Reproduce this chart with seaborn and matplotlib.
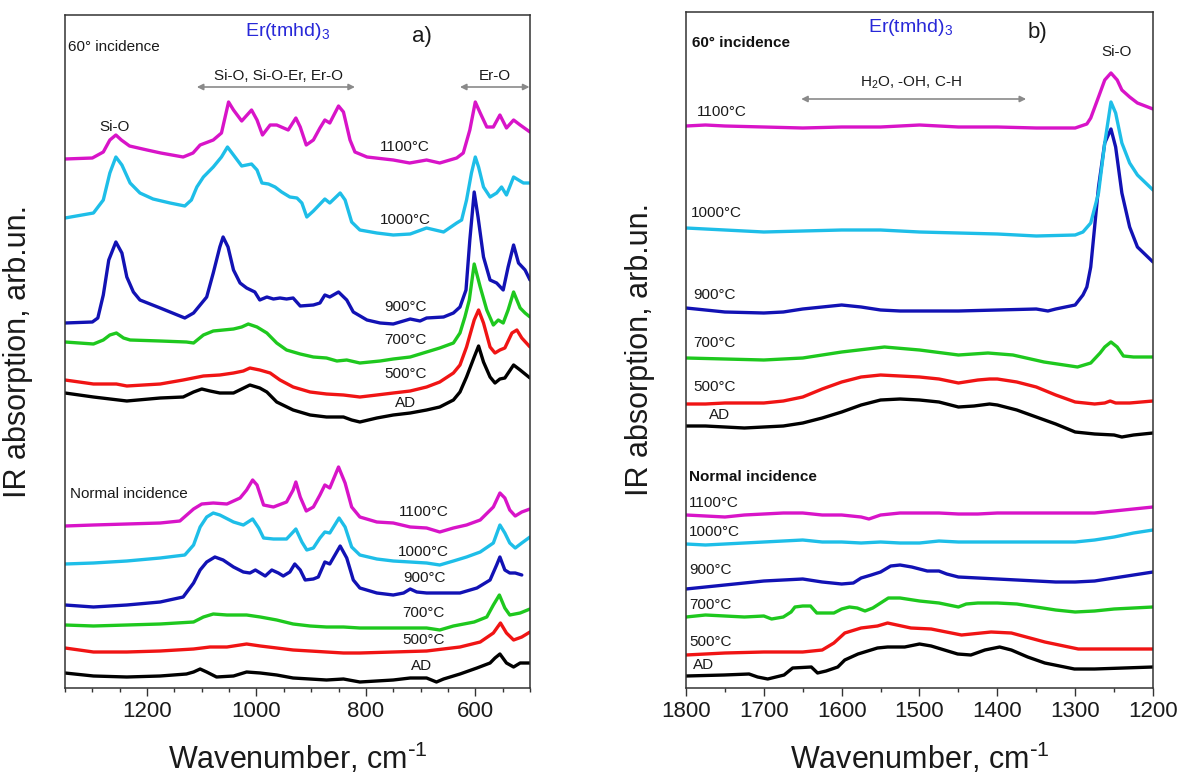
import matplotlib
matplotlib.use("Agg")
import matplotlib.pyplot as plt
from matplotlib.ticker import MultipleLocator, FixedLocator
import seaborn as sns

sns.set_theme(style="ticks")
plt.rcParams["font.family"] = ["Liberation Sans", "DejaVu Sans"]
plt.rcParams["mathtext.default"] = "regular"

# ---------------- data (arbitrary absorption units, stacked) ----------------
LABELS = ["AD", "500°C", "700°C", "900°C", "1000°C", "1100°C"]
COLORS = ["#000000", "#f01414", "#1ec81e", "#1212b4", "#1ebee8", "#d814c8"]

# Panel a, 60° incidence
A60_1100_WN = [1350,1300,1280,1268,1257,1247,1232,1200,1175,1134,1116,1103,1079,1064,1051,1042,1027,1009,999,989,975,963,942,928,920,909,896,884,875,866,850,841,829,820,798,750,720,689,665,634,622,610,600,591,579,567,555,543,530,518,500]
A60_1100_Y = [531,532,538,550,555,550,544,540,537,533,537,545,550,557,588,580,569,580,570,555,565,565,560,572,563,545,550,562,570,567,584,578,550,538,533,530,527,530,527,532,537,560,588,577,563,563,575,562,570,565,558]
A60_1000_WN = [1350,1298,1280,1268,1257,1246,1231,1213,1189,1158,1131,1119,1109,1097,1079,1064,1053,1042,1027,1009,999,990,978,966,954,939,926,917,908,896,875,866,847,838,826,811,780,750,719,689,658,634,625,616,607,600,594,585,573,561,552,543,530,521,512,500]
A60_1000_Y = [472,477,490,517,533,525,507,497,491,487,484,490,503,513,523,533,543,535,524,526,520,507,506,503,498,493,492,487,473,479,491,487,497,490,468,460,457,455,456,462,458,467,470,490,517,533,523,503,493,497,503,495,513,510,507,507]
A60_900_WN = [1350,1300,1290,1280,1270,1257,1246,1237,1225,1213,1176,1131,1115,1091,1079,1067,1061,1052,1042,1030,1018,1003,994,981,969,957,945,933,920,896,884,875,866,850,835,823,798,774,750,719,701,689,658,640,628,617,610,602,595,585,573,561,549,540,530,521,509,500]
A60_900_Y = [367,368,372,395,430,448,437,413,398,390,382,372,377,393,417,443,453,443,420,407,402,398,390,393,391,392,391,392,384,385,387,395,393,398,390,378,370,367,366,371,369,372,373,377,383,400,450,498,473,433,410,407,400,423,445,427,420,410]
A60_700_WN = [1350,1298,1280,1268,1256,1243,1231,1176,1128,1115,1097,1079,1042,1027,1015,999,981,963,945,920,896,872,853,835,811,774,750,719,689,665,640,628,619,611,602,591,579,567,558,549,540,530,518,509,500]
A60_700_Y = [348,346,350,355,357,352,350,349,348,347,355,359,361,363,366,363,357,347,340,336,333,332,329,330,327,329,331,333,338,342,347,357,373,390,426,403,380,365,370,367,380,398,382,377,373]
A60_500_WN = [1350,1298,1256,1237,1176,1134,1097,1067,1042,1024,1012,994,975,957,933,902,872,841,811,780,750,719,689,665,640,628,616,602,594,585,573,564,555,546,533,524,515,500]
A60_500_Y = [310,306,306,304,306,310,314,315,317,319,322,320,317,310,303,298,296,295,293,295,297,299,303,308,317,325,343,370,380,367,343,337,340,342,357,360,352,343]
A60_AD_WN = [1350,1298,1237,1176,1134,1115,1100,1085,1067,1042,1027,1012,994,981,963,933,902,872,841,826,811,780,750,719,689,665,640,628,616,602,594,585,573,564,555,546,530,518,500]
A60_AD_Y = [297,293,289,292,293,298,301,299,297,297,301,305,302,298,288,280,275,273,273,270,268,272,275,277,280,283,290,298,313,333,344,328,313,307,311,312,325,320,312]

# Panel a, normal incidence
AN_1100_WN = [1350,1298,1237,1176,1140,1115,1100,1079,1054,1030,1018,1007,999,987,969,945,933,928,920,909,896,884,875,866,850,838,826,811,780,750,719,689,665,640,616,591,567,555,546,537,527,515,500]
AN_1100_Y = [164,165,166,167,169,181,186,187,186,192,200,210,205,185,183,188,200,208,193,179,183,195,205,202,223,207,183,173,168,167,163,162,158,162,165,170,183,197,192,180,174,178,181]
AN_1000_WN = [1350,1298,1237,1176,1131,1115,1103,1091,1079,1067,1042,1024,1007,996,987,969,945,933,928,917,908,896,884,875,866,849,838,826,811,780,750,719,689,665,640,616,591,567,555,546,537,527,515,500]
AN_1000_Y = [126,127,129,132,135,145,163,173,177,175,168,165,171,162,152,151,151,158,161,148,140,142,152,158,157,172,163,143,135,131,129,128,127,125,129,133,138,147,165,157,147,142,147,153]
AN_900_WN = [1350,1298,1237,1176,1134,1115,1103,1091,1076,1061,1042,1024,1012,1002,993,984,972,960,951,939,930,920,911,896,887,875,866,847,835,823,811,780,750,731,719,707,689,658,628,597,573,561,555,546,537,527,515]
AN_900_Y = [85,83,85,88,93,107,120,128,133,130,123,118,117,120,117,114,120,117,114,118,126,120,110,111,113,128,126,144,132,110,102,97,95,97,101,98,97,97,97,102,110,125,133,120,117,117,115]
AN_700_WN = [1350,1298,1237,1176,1115,1097,1079,1054,1018,993,963,933,902,872,841,811,750,689,665,640,602,579,567,556,546,537,518,500]
AN_700_Y = [65,64,65,66,68,73,76,75,75,73,70,66,64,63,63,62,62,62,60,64,68,73,85,95,82,75,77,81]
AN_500_WN = [1350,1298,1237,1176,1115,1085,1054,1018,993,963,933,902,872,841,811,750,689,628,591,567,554,543,530,515,500]
AN_500_Y = [42,38,38,39,41,43,43,46,44,42,40,39,38,37,37,38,39,43,48,57,67,57,50,53,58]
AN_AD_WN = [1350,1298,1237,1176,1128,1115,1103,1091,1073,1042,1018,993,963,933,872,841,811,750,719,689,671,658,628,597,573,564,555,543,530,518,500]
AN_AD_Y = [17,14,13,14,16,18,21,18,13,14,18,17,15,12,10,11,8,10,12,12,8,11,16,22,27,32,36,27,23,27,27]

# Panel b, 60° incidence
B60_1100_WN = [1800,1775,1750,1700,1650,1600,1550,1500,1450,1400,1350,1300,1285,1280,1270,1262,1254,1246,1240,1230,1220,1200]
B60_1100_Y = [564,565,564,563,562,563,563,565,563,563,562,562,566,572,593,610,617,610,600,593,587,581]
B60_1000_WN = [1800,1775,1750,1700,1650,1600,1550,1500,1450,1400,1350,1300,1290,1280,1270,1262,1254,1248,1240,1230,1220,1200]
B60_1000_Y = [462,461,460,458,459,460,460,458,457,456,454,455,458,467,497,547,588,577,547,527,515,500]
B60_900_WN = [1800,1775,1750,1700,1675,1650,1625,1600,1575,1550,1525,1500,1450,1400,1350,1335,1325,1300,1290,1285,1280,1275,1270,1262,1254,1248,1240,1230,1220,1200]
B60_900_Y = [382,380,378,377,378,381,383,385,383,380,379,379,379,380,381,379,381,385,395,403,423,463,503,547,561,543,497,463,443,428]
B60_700_WN = [1800,1750,1700,1650,1600,1545,1500,1450,1412,1380,1340,1297,1280,1268,1262,1254,1246,1238,1225,1200]
B60_700_Y = [332,331,330,332,338,343,340,335,337,335,328,323,327,337,343,348,343,334,333,333]
B60_500_WN = [1800,1775,1750,1700,1675,1650,1625,1600,1575,1550,1525,1500,1475,1450,1425,1410,1400,1375,1350,1325,1300,1275,1262,1255,1248,1230,1200]
B60_500_Y = [286,286,287,287,289,293,301,308,313,315,314,313,311,307,310,311,311,308,303,295,288,286,287,289,287,287,289]
B60_AD_WN = [1800,1775,1750,1725,1700,1675,1650,1625,1600,1575,1550,1525,1500,1475,1450,1430,1410,1400,1375,1350,1325,1300,1275,1250,1240,1225,1200]
B60_AD_Y = [264,264,263,262,263,264,267,272,278,285,290,291,290,288,283,284,286,285,280,273,266,258,256,255,253,255,257]

# Panel b, normal incidence
BN_1100_WN = [1800,1775,1750,1725,1700,1675,1650,1625,1600,1575,1565,1550,1525,1500,1475,1450,1425,1400,1350,1300,1275,1250,1225,1200]
BN_1100_Y = [175,174,173,175,176,177,177,175,175,173,171,175,177,177,177,176,176,177,177,177,177,179,181,183]
BN_1000_WN = [1800,1775,1750,1725,1700,1675,1650,1625,1600,1575,1550,1525,1500,1475,1450,1425,1400,1350,1300,1275,1250,1225,1200]
BN_1000_Y = [146,145,146,147,148,149,150,148,148,147,148,147,147,149,148,148,148,148,148,150,153,157,160]
BN_900_WN = [1800,1775,1750,1725,1700,1675,1650,1625,1600,1585,1575,1562,1550,1537,1525,1510,1500,1490,1475,1465,1450,1425,1400,1375,1350,1325,1300,1275,1250,1225,1200]
BN_900_Y = [101,103,105,107,109,110,111,108,106,107,112,115,118,124,125,123,121,119,119,116,113,112,111,110,109,108,108,109,112,115,118]
BN_700_WN = [1800,1775,1750,1725,1700,1690,1675,1665,1660,1650,1640,1632,1625,1610,1600,1590,1580,1570,1560,1550,1540,1525,1500,1475,1450,1440,1425,1400,1375,1350,1325,1300,1275,1250,1200]
BN_700_Y = [73,75,74,73,74,71,73,78,83,84,84,77,77,77,81,83,82,79,82,87,92,92,89,87,83,86,87,87,86,83,80,78,79,81,83]
BN_500_WN = [1800,1750,1700,1650,1625,1610,1596,1575,1554,1541,1511,1485,1446,1408,1382,1339,1296,1250,1200]
BN_500_Y = [35,37,38,38,40,47,57,62,64,67,62,61,55,58,57,48,41,41,41]
BN_AD_WN = [1800,1751,1719,1708,1695,1674,1663,1639,1631,1620,1605,1596,1579,1554,1541,1519,1500,1485,1468,1451,1434,1416,1397,1382,1361,1339,1301,1275,1200]
BN_AD_Y = [14,15,16,13,11,15,22,23,17,19,23,30,36,42,43,43,46,44,40,36,35,40,43,40,33,27,21,21,23]

A60 = [(A60_AD_WN, A60_AD_Y), (A60_500_WN, A60_500_Y), (A60_700_WN, A60_700_Y),
       (A60_900_WN, A60_900_Y), (A60_1000_WN, A60_1000_Y), (A60_1100_WN, A60_1100_Y)]
AN = [(AN_AD_WN, AN_AD_Y), (AN_500_WN, AN_500_Y), (AN_700_WN, AN_700_Y),
      (AN_900_WN, AN_900_Y), (AN_1000_WN, AN_1000_Y), (AN_1100_WN, AN_1100_Y)]
B60 = [(B60_AD_WN, B60_AD_Y), (B60_500_WN, B60_500_Y), (B60_700_WN, B60_700_Y),
       (B60_900_WN, B60_900_Y), (B60_1000_WN, B60_1000_Y), (B60_1100_WN, B60_1100_Y)]
BN = [(BN_AD_WN, BN_AD_Y), (BN_500_WN, BN_500_Y), (BN_700_WN, BN_700_Y),
      (BN_900_WN, BN_900_Y), (BN_1000_WN, BN_1000_Y), (BN_1100_WN, BN_1100_Y)]

# label positions (wavenumber, level) for temperature labels
A60_LAB_X = [728, 728, 728, 728, 728, 728]
A60_LAB_Y = [287, 316, 350, 383, 470, 543]
AN_LAB_X = [698, 695, 695, 692, 695, 695]
AN_LAB_Y = [24, 50, 77, 112, 138, 178]
B60_LAB_X = [1770, 1791, 1791, 1791, 1794, 1786]
B60_LAB_Y = [275, 303, 347, 395, 477, 578]
BN_LAB_X = [1791, 1796, 1796, 1796, 1796, 1796]
BN_LAB_Y = [25, 48, 85, 120, 158, 187]

# ---------------- figure ----------------
W, H = 1182, 774
fig = plt.figure(figsize=(W / 100, H / 100), dpi=100)
axA = fig.add_axes([65 / W, 1 - 688 / H, 465 / W, 673 / H])
axB = fig.add_axes([686 / W, 1 - 688 / H, 467 / W, 676 / H])

LW = 2.4
for ax, groups in ((axA, (A60, AN)), (axB, (B60, BN))):
    for grp in groups:
        for (wn, y), c in zip(grp, COLORS):
            sns.lineplot(x=wn, y=y, ax=ax, color=c, lw=LW, estimator=None,
                         sort=False, legend=False)

axA.set_xlim(1350, 500)
axA.set_ylim(2, 675)
axB.set_xlim(1800, 1200)
axB.set_ylim(2, 678)

axA.xaxis.set_major_locator(FixedLocator([1200, 1000, 800, 600]))
axA.xaxis.set_minor_locator(MultipleLocator(50))
axB.xaxis.set_major_locator(MultipleLocator(100))
axB.xaxis.set_minor_locator(MultipleLocator(50))

TXT = "#1a1a1a"
for ax in (axA, axB):
    ax.set_yticks([])
    ax.tick_params(axis="x", which="major", direction="out", length=5.5, width=1,
                   labelsize=16, pad=4, colors="#333333", labelcolor=TXT)
    ax.tick_params(axis="x", which="minor", direction="out", length=3, width=1,
                   colors="#333333")
    for s in ax.spines.values():
        s.set_visible(True)
        s.set_color("#333333")
        s.set_linewidth(1.1)
    ax.set_xlabel(r"Wavenumber, cm$^{\text{-}1}$", fontsize=22, labelpad=13, color=TXT)
    ax.set_ylabel("IR absorption, arb.un.", fontsize=22, color=TXT)
axA.yaxis.set_label_coords(-0.068, 0.5)
axB.yaxis.set_label_coords(-0.066, 0.5)

# temperature labels
for ax, xs, ys, ha in ((axA, A60_LAB_X, A60_LAB_Y, "center"),
                       (axA, AN_LAB_X, AN_LAB_Y, "center"),
                       (axB, B60_LAB_X, B60_LAB_Y, "left"),
                       (axB, BN_LAB_X, BN_LAB_Y, "left")):
    for x, y, t in zip(xs, ys, LABELS):
        ax.text(x, y, t, ha=ha, va="center", fontsize=11, color=TXT)

ERC = "#2828d8"
GREY = "#8a8a8a"
arrow = dict(arrowstyle="<|-|>", color=GREY, lw=1.2, shrinkA=0, shrinkB=0,
             mutation_scale=9)

# panel a annotations
axA.text(1344, 643, "60° incidence", ha="left", va="center", fontsize=11, color=TXT)
axA.text(944, 658, "Er(tmhd)$_3$", ha="center", va="center", fontsize=14, color=ERC)
axA.text(697, 653, "a)", ha="center", va="center", fontsize=16, color=TXT)
axA.text(960, 614, "Si-O, Si-O-Er, Er-O", ha="center", va="center", fontsize=11, color=TXT)
axA.annotate("", xy=(820, 603), xytext=(1109, 603), arrowprops=arrow)
axA.text(564, 614, "Er-O", ha="center", va="center", fontsize=11, color=TXT)
axA.annotate("", xy=(501, 603), xytext=(628, 603), arrowprops=arrow)
axA.text(1259, 563, "Si-O", ha="center", va="center", fontsize=11, color=TXT)
axA.text(1341, 196, "Normal incidence", ha="left", va="center", fontsize=11, color=TXT)

# panel b annotations
axB.text(1792, 647, "60° incidence", ha="left", va="center", fontsize=11,
         fontweight="bold", color="#111111")
axB.text(1511, 662, "Er(tmhd)$_3$", ha="center", va="center", fontsize=14, color=ERC)
axB.text(1348, 657, "b)", ha="center", va="center", fontsize=16, color=TXT)
axB.text(1247, 638, "Si-O", ha="center", va="center", fontsize=11, color=TXT)
axB.text(1511, 607, "H$_2$O, -OH, C-H", ha="center", va="center", fontsize=11, color=TXT)
axB.annotate("", xy=(1363, 591), xytext=(1652, 591), arrowprops=arrow)
axB.text(1796, 213, "Normal incidence", ha="left", va="center", fontsize=11,
         fontweight="bold", color="#111111")

fig.savefig("out.png", dpi=100)
